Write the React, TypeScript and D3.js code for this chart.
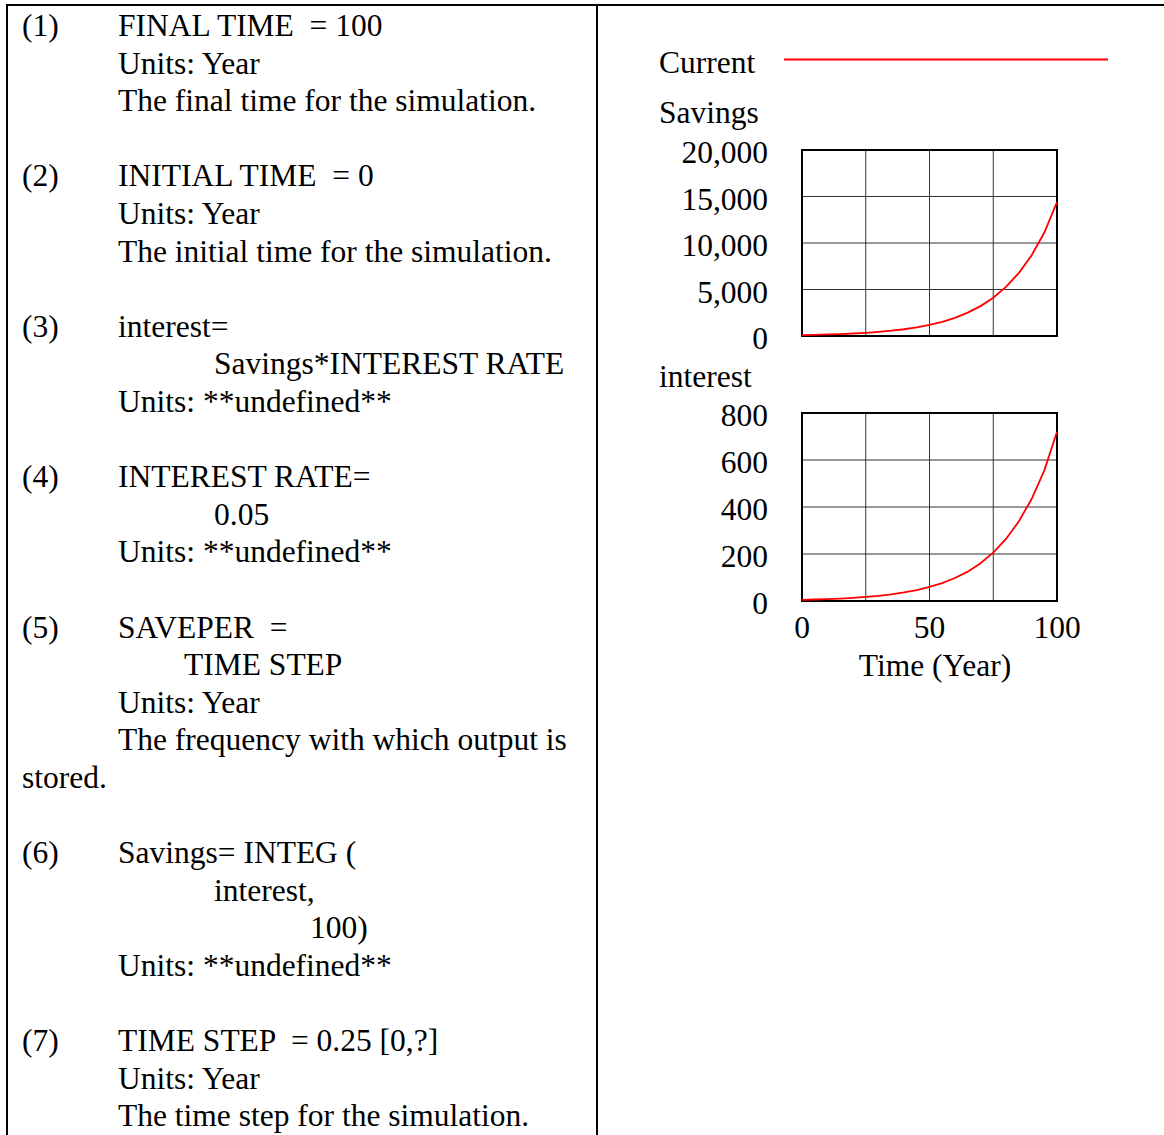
import React from "react";
import * as d3 from "d3";

// ---- data ----
const years = [0, 5, 10, 15, 20, 25, 30, 35, 40, 45, 50, 55, 60, 65, 70, 75, 80, 85, 90, 95, 100];
const savingsValues = [100, 128, 164, 210, 269, 345, 442, 567, 726, 931, 1193, 1528, 1958, 2509, 3214, 4118, 5277, 6760, 8660, 11100, 14390];
const interestValues = [5, 6.4, 8.2, 10.5, 13.5, 17.3, 22.1, 28.4, 36.3, 46.6, 59.7, 76.4, 97.9, 125, 161, 206, 264, 338, 433, 555, 720];
const savingsTicks = [0, 5000, 10000, 15000, 20000];
const interestTicks = [0, 200, 400, 600, 800];
const timeTicks = [0, 50, 100];
const timeGrid = [0, 25, 50, 75, 100];

type Line = { n?: string; x?: number; text: string };
const docLines: (Line | null)[] = [
  { n: "(1)", x: 118, text: "FINAL TIME  = 100" },
  { x: 118, text: "Units: Year" },
  { x: 118, text: "The final time for the simulation." },
  null,
  { n: "(2)", x: 118, text: "INITIAL TIME  = 0" },
  { x: 118, text: "Units: Year" },
  { x: 118, text: "The initial time for the simulation." },
  null,
  { n: "(3)", x: 118, text: "interest=" },
  { x: 214, text: "Savings*INTEREST RATE" },
  { x: 118, text: "Units: **undefined**" },
  null,
  { n: "(4)", x: 118, text: "INTEREST RATE=" },
  { x: 214, text: "0.05" },
  { x: 118, text: "Units: **undefined**" },
  null,
  { n: "(5)", x: 118, text: "SAVEPER  =" },
  { x: 184, text: "TIME STEP" },
  { x: 118, text: "Units: Year" },
  { x: 118, text: "The frequency with which output is" },
  { x: 22, text: "stored." },
  null,
  { n: "(6)", x: 118, text: "Savings= INTEG (" },
  { x: 214, text: "interest," },
  { x: 310, text: "100)" },
  { x: 118, text: "Units: **undefined**" },
  null,
  { n: "(7)", x: 118, text: "TIME STEP  = 0.25 [0,?]" },
  { x: 118, text: "Units: Year" },
  { x: 118, text: "The time step for the simulation." },
];

const FONT = "'Liberation Serif', 'Times New Roman', serif";
const FS = 31.5;

function Panel({
  values,
  ticks,
  top,
  bottom,
  fmt,
  showX,
}: {
  values: number[];
  ticks: number[];
  top: number;
  bottom: number;
  fmt: (v: number) => string;
  showX: boolean;
}) {
  const x = d3.scaleLinear().domain([0, 100]).range([802, 1057]);
  const y = d3.scaleLinear().domain([ticks[0], ticks[ticks.length - 1]]).range([bottom, top]);
  const line = d3
    .line<number>()
    .x((_, i) => x(years[i]))
    .y((d) => y(d));
  return (
    <g>
      {timeGrid.slice(1, -1).map((t) => (
        <line key={"v" + t} x1={x(t)} x2={x(t)} y1={top} y2={bottom} stroke="#333" strokeWidth={1} />
      ))}
      {ticks.slice(1, -1).map((t) => (
        <line key={"h" + t} x1={802} x2={1057} y1={y(t)} y2={y(t)} stroke="#333" strokeWidth={1} />
      ))}
      <rect x={802} y={top} width={255} height={bottom - top} fill="none" stroke="#000" strokeWidth={2} />
      <path d={line(values) || ""} fill="none" stroke="#ff0000" strokeWidth={1.8} />
      {ticks.map((t) => (
        <text key={"l" + t} x={768} y={y(t) + 13} textAnchor="end" fontFamily={FONT} fontSize={FS} fill="#000">
          {fmt(t)}
        </text>
      ))}
      {showX &&
        timeTicks.map((t) => (
          <text key={"x" + t} x={x(t)} y={638} textAnchor="middle" fontFamily={FONT} fontSize={FS} fill="#000">
            {t}
          </text>
        ))}
    </g>
  );
}

export default function App() {
  const fmt = d3.format(",");
  return (
    <svg
      width={1164}
      height={1135}
      style={{ position: "absolute", left: 0, top: 0, background: "#fff" }}
      xmlns="http://www.w3.org/2000/svg"
    >
      <rect x={0} y={0} width={1164} height={1135} fill="#fff" />
      {/* table borders */}
      <line x1={6} x2={1164} y1={5} y2={5} stroke="#000" strokeWidth={2} />
      <line x1={7} x2={7} y1={4} y2={1135} stroke="#000" strokeWidth={2} />
      <line x1={597} x2={597} y1={4} y2={1135} stroke="#000" strokeWidth={2} />

      {/* documentation text */}
      {docLines.map((l, i) => {
        if (!l) return null;
        const yb = 36 + i * 37.6;
        return (
          <g key={i}>
            {l.n && (
              <text x={22} y={yb} fontFamily={FONT} fontSize={FS} fill="#000">
                {l.n}
              </text>
            )}
            <text x={l.x} y={yb} fontFamily={FONT} fontSize={FS} fill="#000" style={{ whiteSpace: "pre" }}>
              {l.text}
            </text>
          </g>
        );
      })}

      {/* legend */}
      <text x={659} y={73} fontFamily={FONT} fontSize={FS} fill="#000">Current</text>
      <line x1={784} x2={1108} y1={59.5} y2={59.5} stroke="#ff0000" strokeWidth={1.8} />

      <text x={659} y={123} fontFamily={FONT} fontSize={FS} fill="#000">Savings</text>
      <Panel values={savingsValues} ticks={savingsTicks} top={150} bottom={336} fmt={fmt} showX={false} />

      <text x={659} y={387} fontFamily={FONT} fontSize={FS} fill="#000">interest</text>
      <Panel values={interestValues} ticks={interestTicks} top={413} bottom={601} fmt={fmt} showX={true} />

      <text x={935} y={676} textAnchor="middle" fontFamily={FONT} fontSize={FS} fill="#000">
        Time (Year)
      </text>
    </svg>
  );
}
